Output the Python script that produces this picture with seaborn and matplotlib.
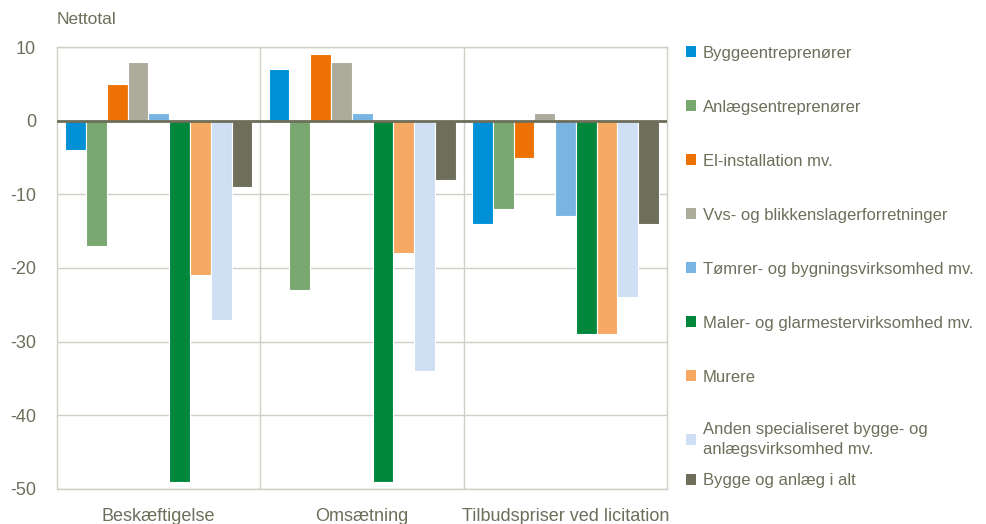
import pandas as pd
import seaborn as sns
import matplotlib.pyplot as plt
from matplotlib.patches import Patch

# data
kategorier = ['Beskæftigelse', 'Omsætning', 'Tilbudspriser ved licitation']
brancher = ['Byggeentreprenører', 'Anlægsentreprenører', 'El-installation mv.',
            'Vvs- og blikkenslagerforretninger', 'Tømrer- og bygningsvirksomhed mv.',
            'Maler- og glarmestervirksomhed mv.', 'Murere',
            'Anden specialiseret bygge- og\nanlægsvirksomhed mv.', 'Bygge og anlæg i alt']
beskaeftigelse = [-4, -17, 5, 8, 1, -49, -21, -27, -9]
omsaetning = [7, -23, 9, 8, 1, -49, -18, -34, -8]
tilbudspriser = [-14, -12, -5, 1, -13, -29, -29, -24, -14]
farver = ['#0090d6', '#78a86f', '#ee7203', '#adab9c', '#78b5e3',
          '#00873c', '#f5a963', '#cfe0f5', '#6e6e5a']
yticks = [10, 0, -10, -20, -30, -40, -50]

tekstfarve = '#6e6e5a'
gitter = '#cfcfc6'

rows = []
for kat, vals in zip(kategorier, [beskaeftigelse, omsaetning, tilbudspriser]):
    for b, v in zip(brancher, vals):
        rows.append({'kategori': kat, 'branche': b, 'nettotal': v})
df = pd.DataFrame(rows)

sns.set_theme(style="white")
plt.rcParams['font.family'] = ['Liberation Sans', 'DejaVu Sans']
plt.rcParams['axes.unicode_minus'] = False

fig = plt.figure(figsize=(9.87, 5.24), dpi=100)
ax = fig.add_axes([0.0578, 0.0668, 0.6182, 0.8435])

ax.set_axisbelow(True)
for y in yticks:
    ax.axhline(y, color=gitter, lw=1, zorder=0)
for x in [0.5, 1.5]:
    ax.axvline(x, color=gitter, lw=1, zorder=0)

sns.barplot(data=df, x='kategori', y='nettotal', hue='branche', order=kategorier,
            hue_order=brancher, palette=farver, saturation=1, width=0.92,
            edgecolor='white', linewidth=0.8, ax=ax, legend=False)

ax.axhline(0, color=tekstfarve, lw=2, zorder=3)

ax.set_xlim(-0.5, 2.5)
ax.set_ylim(-50, 10)
ax.set_yticks(yticks)
ax.set_xlabel('')
ax.set_ylabel('')
ax.tick_params(axis='both', length=0, colors=tekstfarve, labelsize=13)
ax.tick_params(axis='y', pad=15)
ax.tick_params(axis='x', pad=14)
for s in ax.spines.values():
    s.set_color(gitter)
    s.set_linewidth(1)

fig.text(0.0578, 0.962, 'Nettotal', color=tekstfarve, fontsize=12.5, ha='left', va='center')

# legend i to dele for at efterligne afstandene
handles = [Patch(facecolor=c, edgecolor='none') for c in farver]
opts = dict(loc='upper left', bbox_transform=fig.transFigure, frameon=False, fontsize=12,
            labelcolor=tekstfarve, handlelength=0.6, handleheight=0.6, handletextpad=0.4,
            borderaxespad=0, borderpad=0)
leg1 = ax.legend(handles[:7], brancher[:7], bbox_to_anchor=(0.695, 0.913),
                 labelspacing=2.34, **opts)
ax.add_artist(leg1)
leg2 = ax.legend(handles[7:], brancher[7:], bbox_to_anchor=(0.695, 0.194),
                 labelspacing=1.0, **opts)
for t in leg2.get_texts():
    t.set_linespacing(1.35)

fig.savefig('out.png', dpi=100)
